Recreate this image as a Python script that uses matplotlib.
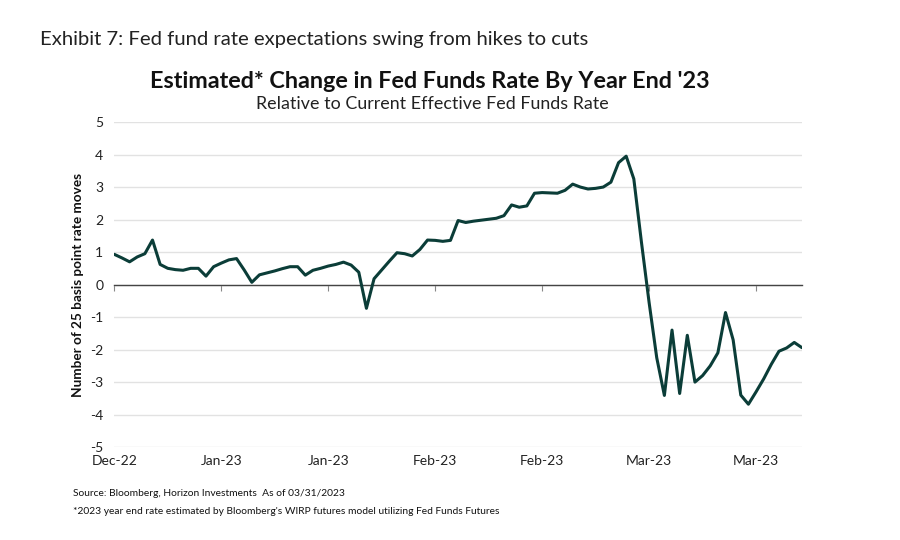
import matplotlib
matplotlib.use("Agg")
import matplotlib.pyplot as plt
import matplotlib.dates as mdates
import numpy as np
import pandas as pd

# daily readings, Dec 30 2022 -> Mar 30 2023
start = "2022-12-30"
values = [0.93, 0.82, 0.70, 0.85, 0.95, 1.37, 0.62, 0.50, 0.46, 0.44,
          0.50, 0.50, 0.26, 0.55, 0.66, 0.76, 0.80, 0.45, 0.07, 0.30,
          0.36, 0.42, 0.49, 0.55, 0.55, 0.29, 0.44, 0.50, 0.57, 0.62,
          0.69, 0.60, 0.38, -0.73, 0.18, 0.45, 0.72, 0.98, 0.95, 0.88,
          1.08, 1.37, 1.36, 1.33, 1.36, 1.97, 1.91, 1.95, 1.98, 2.01,
          2.04, 2.12, 2.45, 2.38, 2.42, 2.81, 2.83, 2.82, 2.81, 2.90,
          3.09, 3.00, 2.94, 2.96, 3.00, 3.15, 3.75, 3.95, 3.25, 1.30,
          -0.55, -2.25, -3.41, -1.40, -3.35, -1.56, -3.00, -2.80, -2.50, -2.10,
          -0.86, -1.70, -3.40, -3.68, -3.30, -2.90, -2.45, -2.05, -1.95, -1.78,
          -1.94]
dates = pd.date_range(start, periods=len(values), freq="D")
tick_dates = pd.date_range(start, periods=7, freq="14D")
y_ticks = list(range(-5, 6))

line_color = "#0b3d38"

plt.rcParams['font.family'] = ['Lato', 'DejaVu Sans']

fig = plt.figure(figsize=(9, 5.4), dpi=100)
ax = fig.add_axes([0.127, 0.172, 0.764, 0.602])

ax.plot(dates, values, color=line_color, linewidth=2.2, solid_joinstyle='round',
        solid_capstyle='round', zorder=3)

ax.set_xlim(dates[0], dates[-1])
ax.set_ylim(-5, 5)
ax.set_yticks(y_ticks)
ax.set_yticklabels([str(v) for v in y_ticks])
ax.grid(axis='y', color='#e2e2e2', linewidth=1)
ax.set_axisbelow(True)

for s in ['top', 'right', 'left']:
    ax.spines[s].set_visible(False)
ax.spines['bottom'].set_position(('data', 0))
ax.spines['bottom'].set_color('#444444')
ax.spines['bottom'].set_linewidth(1)
ax.spines['bottom'].set_zorder(2)

ax.set_xticks(tick_dates)
ax.tick_params(axis='x', direction='out', length=4, color='#888888', labelbottom=False)
ax.tick_params(axis='y', length=0, labelsize=10, pad=8, labelcolor='#222222')

sec = ax.secondary_xaxis(0)
sec.set_xticks(tick_dates)
sec.xaxis.set_major_formatter(mdates.DateFormatter('%b-%y'))
sec.tick_params(length=0, labelsize=10, pad=6, labelcolor='#222222')
sec.spines['bottom'].set_visible(False)

ax.set_ylabel('Number of 25 basis point rate moves', fontsize=9.8,
              fontweight='bold', labelpad=4, color='#111111')

fig.text(40 / 900, 1 - 40 / 540, 'Exhibit 7: Fed fund rate expectations swing from hikes to cuts',
         fontsize=14.6, ha='left', va='center', color='#222222')
fig.text(430 / 900, 1 - 82 / 540, "Estimated* Change in Fed Funds Rate By Year End '23",
         fontsize=16.8, fontweight='bold', ha='center', va='center', color='#111111')
fig.text(432 / 900, 1 - 104 / 540, 'Relative to Current Effective Fed Funds Rate',
         fontsize=12.9, ha='center', va='center', color='#222222')
fig.text(73 / 900, 1 - 494 / 540, 'Source: Bloomberg, Horizon Investments  As of 03/31/2023',
         fontsize=7.4, ha='left', va='center', color='#111111')
fig.text(73 / 900, 1 - 511 / 540,
         "*2023 year end rate estimated by Bloomberg's WIRP futures model utilizing Fed Funds Futures",
         fontsize=7.4, ha='left', va='center', color='#111111')

fig.savefig('out.png', dpi=100)
